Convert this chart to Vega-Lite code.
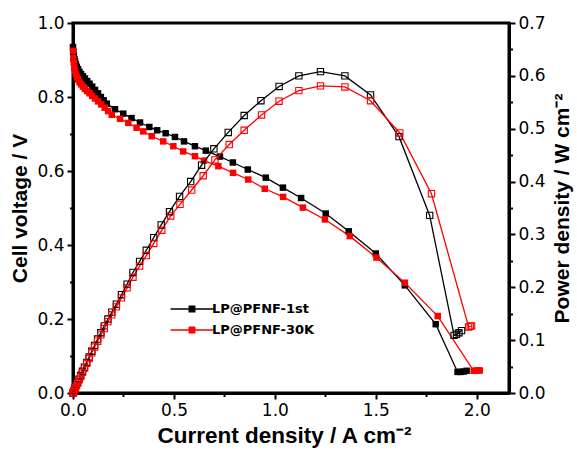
{
  "$schema": "https://vega.github.io/schema/vega-lite/v6.json",
  "width": 436,
  "height": 370,
  "autosize": "none",
  "padding": {"left": 73, "top": 23, "right": 68, "bottom": 58},
  "background": "white",
  "config": {
    "view": {"stroke": "black", "strokeWidth": 3},
    "axis": {
      "domainColor": "black", "domainWidth": 3, "tickColor": "black", "tickWidth": 2,
      "labelFont": "DejaVu Sans", "labelFontSize": 17, "labelColor": "black", "labelPadding": 3,
      "labelFlush": false, "labelOverlap": false,
      "titleFont": "Liberation Sans", "titleFontWeight": "bold", "titleFontSize": 21, "titleColor": "black",
      "grid": false
    }
  },
  "datasets": {
    "volt": [
      {"s": "LP@PFNF-1st", "I": 0.000, "V": 0.935},
      {"s": "LP@PFNF-1st", "I": 0.002, "V": 0.922},
      {"s": "LP@PFNF-1st", "I": 0.004, "V": 0.912},
      {"s": "LP@PFNF-1st", "I": 0.007, "V": 0.903},
      {"s": "LP@PFNF-1st", "I": 0.010, "V": 0.896},
      {"s": "LP@PFNF-1st", "I": 0.014, "V": 0.889},
      {"s": "LP@PFNF-1st", "I": 0.019, "V": 0.882},
      {"s": "LP@PFNF-1st", "I": 0.025, "V": 0.875},
      {"s": "LP@PFNF-1st", "I": 0.032, "V": 0.868},
      {"s": "LP@PFNF-1st", "I": 0.040, "V": 0.862},
      {"s": "LP@PFNF-1st", "I": 0.049, "V": 0.856},
      {"s": "LP@PFNF-1st", "I": 0.059, "V": 0.850},
      {"s": "LP@PFNF-1st", "I": 0.070, "V": 0.843},
      {"s": "LP@PFNF-1st", "I": 0.082, "V": 0.836},
      {"s": "LP@PFNF-1st", "I": 0.095, "V": 0.828},
      {"s": "LP@PFNF-1st", "I": 0.109, "V": 0.819},
      {"s": "LP@PFNF-1st", "I": 0.124, "V": 0.810},
      {"s": "LP@PFNF-1st", "I": 0.138, "V": 0.800},
      {"s": "LP@PFNF-1st", "I": 0.152, "V": 0.791},
      {"s": "LP@PFNF-1st", "I": 0.167, "V": 0.782},
      {"s": "LP@PFNF-1st", "I": 0.208, "V": 0.767},
      {"s": "LP@PFNF-1st", "I": 0.249, "V": 0.755},
      {"s": "LP@PFNF-1st", "I": 0.290, "V": 0.743},
      {"s": "LP@PFNF-1st", "I": 0.332, "V": 0.731},
      {"s": "LP@PFNF-1st", "I": 0.378, "V": 0.719},
      {"s": "LP@PFNF-1st", "I": 0.417, "V": 0.710},
      {"s": "LP@PFNF-1st", "I": 0.459, "V": 0.702},
      {"s": "LP@PFNF-1st", "I": 0.505, "V": 0.692},
      {"s": "LP@PFNF-1st", "I": 0.550, "V": 0.680},
      {"s": "LP@PFNF-1st", "I": 0.604, "V": 0.667},
      {"s": "LP@PFNF-1st", "I": 0.658, "V": 0.655},
      {"s": "LP@PFNF-1st", "I": 0.728, "V": 0.639},
      {"s": "LP@PFNF-1st", "I": 0.792, "V": 0.623},
      {"s": "LP@PFNF-1st", "I": 0.866, "V": 0.604},
      {"s": "LP@PFNF-1st", "I": 0.955, "V": 0.582},
      {"s": "LP@PFNF-1st", "I": 1.040, "V": 0.555},
      {"s": "LP@PFNF-1st", "I": 1.130, "V": 0.527},
      {"s": "LP@PFNF-1st", "I": 1.252, "V": 0.485},
      {"s": "LP@PFNF-1st", "I": 1.366, "V": 0.437},
      {"s": "LP@PFNF-1st", "I": 1.500, "V": 0.377},
      {"s": "LP@PFNF-1st", "I": 1.644, "V": 0.291},
      {"s": "LP@PFNF-1st", "I": 1.797, "V": 0.186},
      {"s": "LP@PFNF-1st", "I": 1.905, "V": 0.057},
      {"s": "LP@PFNF-1st", "I": 1.920, "V": 0.057},
      {"s": "LP@PFNF-1st", "I": 1.935, "V": 0.058},
      {"s": "LP@PFNF-1st", "I": 1.950, "V": 0.060},
      {"s": "LP@PFNF-30K", "I": 0.000, "V": 0.925},
      {"s": "LP@PFNF-30K", "I": 0.002, "V": 0.905},
      {"s": "LP@PFNF-30K", "I": 0.004, "V": 0.892},
      {"s": "LP@PFNF-30K", "I": 0.007, "V": 0.880},
      {"s": "LP@PFNF-30K", "I": 0.010, "V": 0.871},
      {"s": "LP@PFNF-30K", "I": 0.014, "V": 0.862},
      {"s": "LP@PFNF-30K", "I": 0.019, "V": 0.854},
      {"s": "LP@PFNF-30K", "I": 0.025, "V": 0.847},
      {"s": "LP@PFNF-30K", "I": 0.032, "V": 0.840},
      {"s": "LP@PFNF-30K", "I": 0.040, "V": 0.834},
      {"s": "LP@PFNF-30K", "I": 0.049, "V": 0.828},
      {"s": "LP@PFNF-30K", "I": 0.059, "V": 0.822},
      {"s": "LP@PFNF-30K", "I": 0.070, "V": 0.816},
      {"s": "LP@PFNF-30K", "I": 0.082, "V": 0.810},
      {"s": "LP@PFNF-30K", "I": 0.095, "V": 0.803},
      {"s": "LP@PFNF-30K", "I": 0.109, "V": 0.796},
      {"s": "LP@PFNF-30K", "I": 0.124, "V": 0.788},
      {"s": "LP@PFNF-30K", "I": 0.140, "V": 0.780},
      {"s": "LP@PFNF-30K", "I": 0.157, "V": 0.771},
      {"s": "LP@PFNF-30K", "I": 0.174, "V": 0.762},
      {"s": "LP@PFNF-30K", "I": 0.192, "V": 0.752},
      {"s": "LP@PFNF-30K", "I": 0.233, "V": 0.741},
      {"s": "LP@PFNF-30K", "I": 0.274, "V": 0.730},
      {"s": "LP@PFNF-30K", "I": 0.315, "V": 0.717},
      {"s": "LP@PFNF-30K", "I": 0.348, "V": 0.707},
      {"s": "LP@PFNF-30K", "I": 0.390, "V": 0.694},
      {"s": "LP@PFNF-30K", "I": 0.447, "V": 0.680},
      {"s": "LP@PFNF-30K", "I": 0.497, "V": 0.667},
      {"s": "LP@PFNF-30K", "I": 0.546, "V": 0.653},
      {"s": "LP@PFNF-30K", "I": 0.604, "V": 0.640},
      {"s": "LP@PFNF-30K", "I": 0.649, "V": 0.628},
      {"s": "LP@PFNF-30K", "I": 0.720, "V": 0.613},
      {"s": "LP@PFNF-30K", "I": 0.793, "V": 0.595},
      {"s": "LP@PFNF-30K", "I": 0.868, "V": 0.577},
      {"s": "LP@PFNF-30K", "I": 0.950, "V": 0.552},
      {"s": "LP@PFNF-30K", "I": 1.041, "V": 0.530},
      {"s": "LP@PFNF-30K", "I": 1.139, "V": 0.501},
      {"s": "LP@PFNF-30K", "I": 1.248, "V": 0.469},
      {"s": "LP@PFNF-30K", "I": 1.371, "V": 0.424},
      {"s": "LP@PFNF-30K", "I": 1.503, "V": 0.366},
      {"s": "LP@PFNF-30K", "I": 1.644, "V": 0.298},
      {"s": "LP@PFNF-30K", "I": 1.807, "V": 0.208},
      {"s": "LP@PFNF-30K", "I": 1.985, "V": 0.060},
      {"s": "LP@PFNF-30K", "I": 1.995, "V": 0.060},
      {"s": "LP@PFNF-30K", "I": 2.005, "V": 0.061},
      {"s": "LP@PFNF-30K", "I": 2.015, "V": 0.061}
    ],
    "pow": [
      {"s": "LP@PFNF-1st", "I": 0.000, "P": 0.000},
      {"s": "LP@PFNF-1st", "I": 0.004, "P": 0.004},
      {"s": "LP@PFNF-1st", "I": 0.008, "P": 0.008},
      {"s": "LP@PFNF-1st", "I": 0.012, "P": 0.011},
      {"s": "LP@PFNF-1st", "I": 0.017, "P": 0.015},
      {"s": "LP@PFNF-1st", "I": 0.023, "P": 0.020},
      {"s": "LP@PFNF-1st", "I": 0.030, "P": 0.026},
      {"s": "LP@PFNF-1st", "I": 0.038, "P": 0.033},
      {"s": "LP@PFNF-1st", "I": 0.047, "P": 0.041},
      {"s": "LP@PFNF-1st", "I": 0.057, "P": 0.049},
      {"s": "LP@PFNF-1st", "I": 0.068, "P": 0.058},
      {"s": "LP@PFNF-1st", "I": 0.080, "P": 0.068},
      {"s": "LP@PFNF-1st", "I": 0.093, "P": 0.079},
      {"s": "LP@PFNF-1st", "I": 0.107, "P": 0.090},
      {"s": "LP@PFNF-1st", "I": 0.122, "P": 0.102},
      {"s": "LP@PFNF-1st", "I": 0.138, "P": 0.114},
      {"s": "LP@PFNF-1st", "I": 0.155, "P": 0.127},
      {"s": "LP@PFNF-1st", "I": 0.173, "P": 0.140},
      {"s": "LP@PFNF-1st", "I": 0.192, "P": 0.153},
      {"s": "LP@PFNF-1st", "I": 0.215, "P": 0.168},
      {"s": "LP@PFNF-1st", "I": 0.240, "P": 0.186},
      {"s": "LP@PFNF-1st", "I": 0.268, "P": 0.206},
      {"s": "LP@PFNF-1st", "I": 0.297, "P": 0.228},
      {"s": "LP@PFNF-1st", "I": 0.330, "P": 0.249},
      {"s": "LP@PFNF-1st", "I": 0.363, "P": 0.270},
      {"s": "LP@PFNF-1st", "I": 0.400, "P": 0.294},
      {"s": "LP@PFNF-1st", "I": 0.437, "P": 0.318},
      {"s": "LP@PFNF-1st", "I": 0.478, "P": 0.343},
      {"s": "LP@PFNF-1st", "I": 0.528, "P": 0.372},
      {"s": "LP@PFNF-1st", "I": 0.583, "P": 0.400},
      {"s": "LP@PFNF-1st", "I": 0.637, "P": 0.431},
      {"s": "LP@PFNF-1st", "I": 0.698, "P": 0.462},
      {"s": "LP@PFNF-1st", "I": 0.769, "P": 0.493},
      {"s": "LP@PFNF-1st", "I": 0.848, "P": 0.525},
      {"s": "LP@PFNF-1st", "I": 0.931, "P": 0.553},
      {"s": "LP@PFNF-1st", "I": 1.021, "P": 0.580},
      {"s": "LP@PFNF-1st", "I": 1.119, "P": 0.600},
      {"s": "LP@PFNF-1st", "I": 1.226, "P": 0.608},
      {"s": "LP@PFNF-1st", "I": 1.347, "P": 0.600},
      {"s": "LP@PFNF-1st", "I": 1.474, "P": 0.564},
      {"s": "LP@PFNF-1st", "I": 1.615, "P": 0.485},
      {"s": "LP@PFNF-1st", "I": 1.767, "P": 0.336},
      {"s": "LP@PFNF-1st", "I": 1.888, "P": 0.109},
      {"s": "LP@PFNF-1st", "I": 1.900, "P": 0.111},
      {"s": "LP@PFNF-1st", "I": 1.912, "P": 0.114},
      {"s": "LP@PFNF-1st", "I": 1.925, "P": 0.118},
      {"s": "LP@PFNF-30K", "I": 0.000, "P": 0.000},
      {"s": "LP@PFNF-30K", "I": 0.004, "P": 0.003},
      {"s": "LP@PFNF-30K", "I": 0.008, "P": 0.007},
      {"s": "LP@PFNF-30K", "I": 0.012, "P": 0.010},
      {"s": "LP@PFNF-30K", "I": 0.017, "P": 0.014},
      {"s": "LP@PFNF-30K", "I": 0.023, "P": 0.019},
      {"s": "LP@PFNF-30K", "I": 0.030, "P": 0.025},
      {"s": "LP@PFNF-30K", "I": 0.038, "P": 0.031},
      {"s": "LP@PFNF-30K", "I": 0.047, "P": 0.039},
      {"s": "LP@PFNF-30K", "I": 0.057, "P": 0.047},
      {"s": "LP@PFNF-30K", "I": 0.068, "P": 0.056},
      {"s": "LP@PFNF-30K", "I": 0.080, "P": 0.065},
      {"s": "LP@PFNF-30K", "I": 0.093, "P": 0.076},
      {"s": "LP@PFNF-30K", "I": 0.107, "P": 0.087},
      {"s": "LP@PFNF-30K", "I": 0.122, "P": 0.098},
      {"s": "LP@PFNF-30K", "I": 0.138, "P": 0.110},
      {"s": "LP@PFNF-30K", "I": 0.155, "P": 0.122},
      {"s": "LP@PFNF-30K", "I": 0.173, "P": 0.135},
      {"s": "LP@PFNF-30K", "I": 0.192, "P": 0.148},
      {"s": "LP@PFNF-30K", "I": 0.215, "P": 0.163},
      {"s": "LP@PFNF-30K", "I": 0.240, "P": 0.180},
      {"s": "LP@PFNF-30K", "I": 0.268, "P": 0.199},
      {"s": "LP@PFNF-30K", "I": 0.297, "P": 0.219},
      {"s": "LP@PFNF-30K", "I": 0.330, "P": 0.240},
      {"s": "LP@PFNF-30K", "I": 0.363, "P": 0.260},
      {"s": "LP@PFNF-30K", "I": 0.400, "P": 0.283},
      {"s": "LP@PFNF-30K", "I": 0.440, "P": 0.308},
      {"s": "LP@PFNF-30K", "I": 0.484, "P": 0.335},
      {"s": "LP@PFNF-30K", "I": 0.530, "P": 0.357},
      {"s": "LP@PFNF-30K", "I": 0.588, "P": 0.384},
      {"s": "LP@PFNF-30K", "I": 0.645, "P": 0.411},
      {"s": "LP@PFNF-30K", "I": 0.703, "P": 0.441},
      {"s": "LP@PFNF-30K", "I": 0.774, "P": 0.470},
      {"s": "LP@PFNF-30K", "I": 0.848, "P": 0.497},
      {"s": "LP@PFNF-30K", "I": 0.934, "P": 0.526},
      {"s": "LP@PFNF-30K", "I": 1.021, "P": 0.552},
      {"s": "LP@PFNF-30K", "I": 1.119, "P": 0.572},
      {"s": "LP@PFNF-30K", "I": 1.226, "P": 0.581},
      {"s": "LP@PFNF-30K", "I": 1.347, "P": 0.579},
      {"s": "LP@PFNF-30K", "I": 1.474, "P": 0.553},
      {"s": "LP@PFNF-30K", "I": 1.619, "P": 0.492},
      {"s": "LP@PFNF-30K", "I": 1.776, "P": 0.377},
      {"s": "LP@PFNF-30K", "I": 1.960, "P": 0.125},
      {"s": "LP@PFNF-30K", "I": 1.968, "P": 0.126},
      {"s": "LP@PFNF-30K", "I": 1.975, "P": 0.127}
    ]
  },
  "encoding": {
    "x": {
      "field": "I", "type": "quantitative",
      "scale": {"domain": [0, 2.16], "nice": false, "zero": false, "padding": 0},
      "axis": {
        "title": "Current density / A cm⁻²",
        "titleFontSize": 22.5,
        "titleX": 211,
        "values": [0, 0.25, 0.5, 0.75, 1, 1.25, 1.5, 1.75, 2],
        "format": ".1f",
        "labelExpr": "round(datum.value*4)%2==0 ? datum.label : ''",
        "tickSize": {"condition": {"test": "round(datum.value*4)%2==0", "value": 6}, "value": 3.5},
        "titlePadding": 6
      }
    },
    "color": {
      "field": "s", "type": "nominal",
      "scale": {"domain": ["LP@PFNF-1st", "LP@PFNF-30K"], "range": ["#000000", "#ff0000"]},
      "legend": {
        "title": null, "orient": "none", "legendX": 110, "legendY": 277, "padding": 0,
        "symbolType": "M-2.5,-0.09H2.5V0.09H-2.5Z M-0.4,-0.4H0.4V0.4H-0.4Z",
        "symbolSize": 296, "symbolStrokeWidth": 0,
        "labelFont": "DejaVu Sans", "labelFontWeight": "bold", "labelFontSize": 13, "labelColor": "black",
        "labelOffset": 11, "rowPadding": 5,
        "encode": {"symbols": {"update": {"fill": {"scale": "color", "field": "value"}, "stroke": {"value": "transparent"}, "opacity": {"value": 1}}}}
      }
    }
  },
  "layer": [
    {
      "data": {"name": "volt"},
      "encoding": {
        "y": {
          "field": "V", "type": "quantitative",
          "scale": {"domain": [0, 1], "nice": false, "padding": 0},
          "axis": {
            "orient": "left", "title": "Cell voltage / V",
            "values": [0, 0.1, 0.2, 0.3, 0.4, 0.5, 0.6, 0.7, 0.8, 0.9, 1],
            "format": ".1f",
            "labelExpr": "round(datum.value*10)%2==0 ? datum.label : ''",
            "tickSize": {"condition": {"test": "round(datum.value*10)%2==0", "value": 6}, "value": 3.5},
            "titlePadding": 6
          }
        }
      },
      "layer": [
        {"mark": {"type": "line", "strokeWidth": 1.3}},
        {"mark": {"type": "point", "shape": "square", "filled": true, "size": 42, "opacity": 1}}
      ]
    },
    {
      "data": {"name": "pow"},
      "encoding": {
        "y": {
          "field": "P", "type": "quantitative",
          "scale": {"domain": [0, 0.7], "nice": false, "padding": 0},
          "axis": {
            "orient": "right", "title": "Power density / W cm⁻²",
            "values": [0, 0.05, 0.1, 0.15, 0.2, 0.25, 0.3, 0.35, 0.4, 0.45, 0.5, 0.55, 0.6, 0.65, 0.7],
            "format": ".1f",
            "labelExpr": "round(datum.value*20)%2==0 ? datum.label : ''",
            "tickSize": {"condition": {"test": "round(datum.value*20)%2==0", "value": 6}, "value": 3.5},
            "titleAngle": -90, "titleBaseline": "top",
            "titlePadding": 6
          }
        }
      },
      "layer": [
        {"mark": {"type": "line", "strokeWidth": 1.3}},
        {"mark": {"type": "point", "shape": "square", "filled": false, "size": 40, "strokeWidth": 1.1, "opacity": 1}}
      ]
    }
  ],
  "resolve": {"scale": {"y": "independent"}}
}
